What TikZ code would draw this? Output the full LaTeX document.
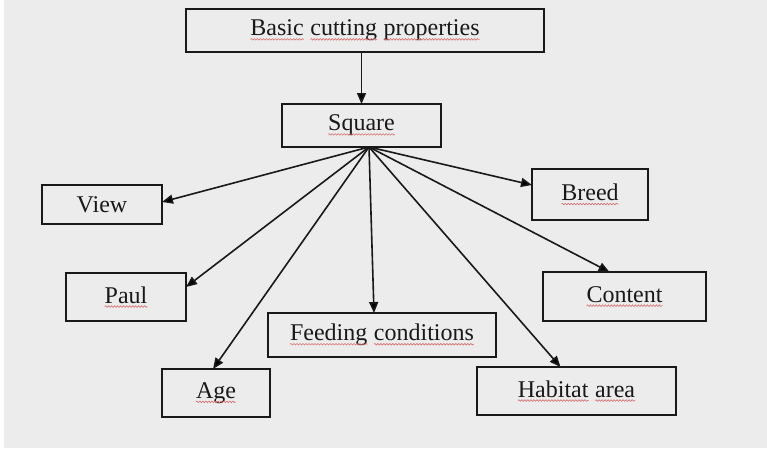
\documentclass[tikz,border=0pt]{standalone}
\usepackage{fontspec}
\setmainfont{Liberation Serif}
\usetikzlibrary{arrows.meta,decorations.pathmorphing}
\definecolor{bg}{RGB}{236,236,236}
\definecolor{ink}{RGB}{25,25,25}
\definecolor{squigred}{RGB}{215,110,110}
\tikzset{
  box/.style={draw=ink, line width=1.8pt, fill=bg, inner sep=0pt, outer sep=0pt,
    font=\fontsize{24}{28}\selectfont, text=ink},
  conn/.style={draw=ink, line width=1.6pt, -{Triangle[length=11pt,width=9pt]}},
  squig/.style={draw=squigred, line width=0.6pt, decorate,
    decoration={snake, amplitude=0.8pt, segment length=3pt}},
  plainword/.style={inner sep=0pt, outer sep=0pt, minimum width=0pt, minimum height=0pt, draw=none, fill=none}
}
\newcommand\wv[1]{\tikz[baseline=(wq.base)]{\node[plainword] (wq) {#1}; \draw[squig] ([yshift=-3.5pt]wq.base west) -- ([yshift=-3.5pt]wq.base east);}}
\begin{document}
\begin{tikzpicture}[x=1pt,y=-1pt]
\fill[bg] (0,0) rectangle (767,448);
\fill[white!96!bg] (0,0) rectangle (4,448);
\useasboundingbox (0,0) rectangle (767,448);

\node[box, minimum width=358pt, minimum height=43pt] (basic) at (365,30.5) {\wv{Basic} \wv{cutting} \wv{properties}};
\node[box, minimum width=159pt, minimum height=43pt] (square) at (361.5,125.5) {\wv{Square}};
\node[box, minimum width=120pt, minimum height=39pt] (view) at (102,204.5) {View};
\node[box, minimum width=120pt, minimum height=48pt] (paul) at (126,297) {\wv{Paul}};
\node[box, minimum width=228pt, minimum height=44pt] (feed) at (382,335) {\wv{Feeding} \wv{conditions}};
\node[box, minimum width=108pt, minimum height=48pt] (age) at (216,393) {\wv{Age}};
\node[box, minimum width=116pt, minimum height=51pt] (breed) at (590,194.5) {\wv{Breed}};
\node[box, minimum width=163pt, minimum height=49pt] (content) at (624.5,296.5) {\wv{Content}};
\node[box, minimum width=199pt, minimum height=48pt] (habitat) at (576.5,391) {\wv{Habitat} \wv{area}};

\coordinate (hub) at ([xshift=7.5pt]square.south);

\draw[conn] (basic.south -| square.north) -- (square.north);
\draw[conn] (hub) -- ([yshift=2.5pt]view.east);
\draw[conn] (hub) -- ([yshift=10pt]paul.east);
\draw[conn] (hub) -- ([xshift=-3pt]age.north);
\draw[conn] (hub) -- ([xshift=-8pt]feed.north);
\draw[conn] (hub) -- ([yshift=9.5pt]breed.west);
\draw[conn] (hub) -- ([xshift=-15pt]content.north);
\draw[conn] (hub) -- ([xshift=-16pt]habitat.north);
\end{tikzpicture}
\end{document}
